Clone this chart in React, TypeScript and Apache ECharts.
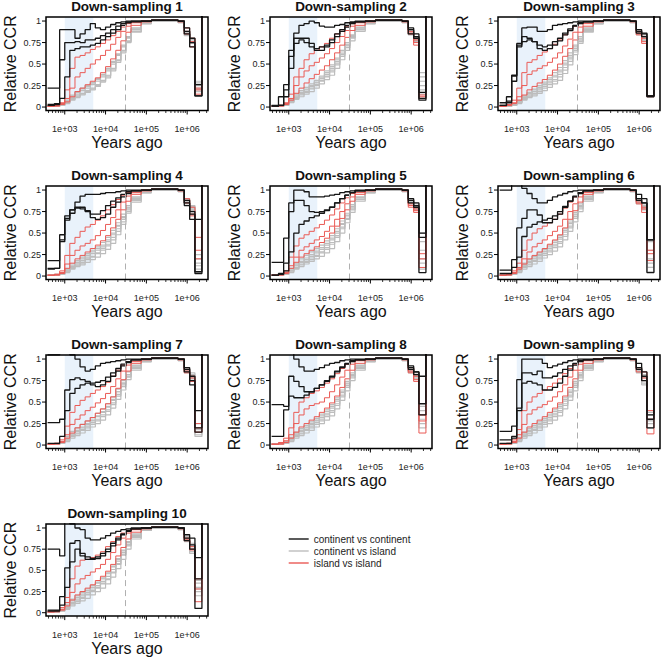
import React, { useEffect, useRef } from 'react';
import * as echarts from 'echarts';

const FONT = '"Liberation Sans", Arial, Helvetica, sans-serif';

// time boundaries (years ago) of the step segments; each value holds from TIMES[i] to TIMES[i+1]
const TIMES = [380, 560, 750, 1000, 1330, 1780, 2370, 3160, 4220, 5620, 7500, 10000, 13300, 17800, 23700, 31600, 42200, 75000, 133000, 300000, 600000, 850000, 1150000, 1550000, 2300000];
const T_END = 1e7;

const X_MIN = 347;
const X_MAX = 3.24e6;
const Y_MIN = -0.04;
const Y_MAX = 1.047;

const X_TICKS = [1e3, 1e4, 1e5, 1e6];
const X_TICK_LABELS = ['1e+03', '1e+04', '1e+05', '1e+06'];
const X_MINOR_TICKS = [400, 500, 600, 700, 800, 900, 2000, 3000, 4000, 5000, 6000, 7000, 8000, 9000, 2e4, 3e4, 4e4, 5e4, 6e4, 7e4, 8e4, 9e4, 2e5, 3e5, 4e5, 5e5, 6e5, 7e5, 8e5, 9e5, 2e6, 3e6];
const Y_TICKS = [0, 0.25, 0.5, 0.75, 1];
const Y_TICK_LABELS = ['0', '0.25', '0.5', '0.75', '1'];

const SHADE_RANGE = [1000, 5000];
const DASH_AT = 30000;

const TITLES = ['Down-sampling 1', 'Down-sampling 2', 'Down-sampling 3', 'Down-sampling 4', 'Down-sampling 5', 'Down-sampling 6', 'Down-sampling 7', 'Down-sampling 8', 'Down-sampling 9', 'Down-sampling 10'];
const LEGEND = ['continent vs continent', 'continent vs island', 'island vs island'];

// Relative CCR in percent, one row per pair
const DS1_CC = [
  [22,22,90,90,90,80,85,90,97,92,90,93,96,98,99,100,100,100,101,101,100,92,80,13,150],
  [3,3,55,75,75,76,75,78,78,80,83,86,90,94,97,99,100,100,101,101,100,88,75,26,150],
  [2,4,10,35,66,68,70,70,72,74,78,82,86,90,95,98,99,100,101,101,100,85,70,13,150],
];
const DS1_II = [
  [1,2,5,20,45,58,60,63,67,70,74,78,83,88,93,97,99,100,101,101,100,92,80,20,150],
  [1,2,4,10,22,35,40,45,50,55,60,66,73,81,88,94,98,100,101,101,100,88,76,15,150],
  [1,1,3,6,12,18,22,26,30,34,40,47,56,66,77,87,95,99,101,101,99,85,70,22,150],
];
const DS1_CI = [
  [1,2,4,8,14,18,22,25,28,33,38,45,53,62,72,82,92,98,100,100,99,86,78,20,150],
  [1,1,3,6,11,15,19,22,26,30,35,42,50,60,70,80,90,98,100,100,99,85,75,25,150],
  [1,1,2,5,10,13,16,19,22,26,31,37,45,55,66,77,88,97,100,100,99,88,80,30,150],
  [1,1,2,4,8,11,14,17,20,24,29,34,42,52,63,75,87,97,100,100,98,84,76,22,150],
  [1,2,3,7,13,17,21,24,28,32,37,44,52,61,71,81,91,98,100,100,99,87,79,28,150],
  [1,1,2,5,9,12,15,18,21,25,30,36,44,54,65,76,88,97,100,100,98,83,74,18,150],
];
const DS2_CC = [
  [2,12,26,66,86,95,97,100,98,94,93,93,95,96,98,99,100,100,101,101,100,92,82,10,150],
  [1,2,20,59,80,80,80,74,66,66,70,75,82,88,93,97,99,100,101,101,100,85,80,8,150],
  [1,2,12,45,74,78,75,70,68,70,72,78,85,90,95,98,99,100,101,101,100,90,85,17,150],
];
const DS2_II = [
  [1,2,5,15,35,45,55,62,66,70,74,80,85,90,94,97,99,100,101,101,100,88,75,10,150],
  [1,2,4,10,25,35,42,48,52,57,62,68,75,82,89,94,98,100,101,101,100,86,78,14,150],
  [1,1,3,8,16,22,28,33,38,43,48,55,63,72,81,89,95,99,101,101,99,85,72,12,150],
];
const DS2_CI = [
  [1,2,4,9,15,19,23,27,31,36,42,49,57,66,75,84,93,98,100,100,99,88,80,35,150],
  [1,1,3,7,12,16,20,24,28,33,38,45,53,62,72,82,91,98,100,100,99,86,78,25,150],
  [1,1,2,6,10,14,17,21,25,30,35,41,49,59,69,80,90,97,100,100,99,90,82,40,150],
  [1,1,2,5,9,12,15,18,22,27,32,37,45,55,66,77,88,97,100,100,98,85,77,20,150],
  [1,2,3,8,13,17,21,25,29,34,40,47,55,64,73,83,92,98,100,100,99,89,81,30,150],
  [1,1,2,6,11,15,18,22,26,31,36,43,51,61,71,81,90,97,100,100,98,84,76,15,150],
];
const DS3_CC = [
  [5,12,37,74,92,93,93,88,88,90,95,96,97,98,99,100,100,100,101,101,100,90,85,13,150],
  [2,7,36,70,82,80,76,68,66,68,72,77,84,89,94,97,99,100,101,101,100,88,86,12,150],
  [2,5,30,72,76,78,76,72,70,72,76,80,86,91,95,98,99,100,101,101,100,86,82,13,150],
];
const DS3_II = [
  [1,3,8,22,40,52,55,60,64,68,73,78,84,89,94,97,99,100,101,101,100,88,74,12,150],
  [1,2,5,12,25,38,42,45,48,52,57,63,71,79,87,93,97,100,101,101,100,86,80,13,150],
  [1,2,4,8,14,20,24,28,32,37,43,50,59,68,78,87,94,99,101,101,99,84,76,13,150],
];
const DS3_CI = [
  [1,2,4,8,13,17,21,25,29,34,40,46,54,63,72,82,92,98,100,100,99,88,82,13,150],
  [1,1,3,6,11,15,18,22,26,30,35,41,49,58,68,79,90,97,100,100,99,86,80,13,150],
  [1,1,2,5,9,12,15,18,22,26,30,35,43,53,64,76,88,97,100,100,99,90,84,13,150],
  [1,1,2,4,8,11,13,16,19,23,27,31,39,49,61,74,87,97,100,100,98,85,78,13,150],
  [1,2,3,7,12,16,20,23,27,32,37,43,51,60,70,80,91,98,100,100,99,87,81,13,150],
  [1,1,2,5,10,13,16,20,24,28,32,38,46,56,66,77,89,97,100,100,98,84,77,13,150],
];
const DS4_CC = [
  [18,18,42,67,77,86,93,95,95,95,96,97,97,98,99,100,100,100,101,101,100,88,75,3,150],
  [9,9,48,70,77,80,78,75,68,66,68,72,80,86,92,96,99,100,101,101,100,82,72,5,150],
  [8,9,40,65,73,79,80,76,72,72,76,82,87,91,95,98,99,100,101,101,100,85,66,66,150],
];
const DS4_II = [
  [1,2,6,24,38,45,52,57,60,65,70,77,83,89,94,97,99,100,101,101,100,90,80,30,150],
  [1,2,4,14,24,30,35,38,42,47,53,60,68,77,86,93,97,100,101,101,100,88,72,45,150],
  [1,1,3,9,15,20,24,28,32,36,41,47,56,66,77,87,95,99,101,101,99,85,70,20,150],
];
const DS4_CI = [
  [1,2,4,8,14,18,22,26,30,34,39,45,53,62,72,82,92,98,100,100,99,88,80,20,150],
  [1,1,3,6,11,15,18,22,26,30,34,40,48,58,68,79,90,97,100,100,99,86,78,8,150],
  [1,1,2,5,9,12,15,19,22,26,30,35,42,52,63,75,88,97,100,100,99,90,82,15,150],
  [1,1,2,4,8,11,13,16,19,22,26,31,38,48,60,73,86,97,100,100,98,85,77,12,150],
  [1,2,3,7,12,16,20,24,28,32,36,42,50,59,69,80,91,98,100,100,99,87,81,25,150],
  [1,1,2,5,10,13,16,20,23,27,32,37,45,55,66,77,89,97,100,100,98,84,76,5,150],
];
const DS5_CC = [
  [16,16,44,85,100,100,98,92,92,92,93,94,95,97,98,99,100,100,101,101,100,88,85,45,150],
  [1,3,15,75,88,88,82,75,74,75,77,80,85,90,94,97,99,100,101,101,100,85,80,4,150],
  [1,2,6,28,50,60,64,68,70,73,76,80,85,90,94,97,99,100,101,101,100,90,82,50,150],
];
const DS5_II = [
  [1,2,6,22,35,44,48,52,56,60,65,71,78,85,91,96,99,100,101,101,100,80,78,26,150],
  [1,2,4,12,22,30,34,38,42,46,52,58,66,75,84,92,97,100,101,101,100,82,76,10,150],
  [1,1,3,9,16,22,26,30,34,39,44,50,58,67,77,87,95,99,101,101,99,84,74,20,150],
];
const DS5_CI = [
  [1,2,4,9,15,20,24,28,32,36,41,47,55,64,73,83,92,98,100,100,99,88,82,50,150],
  [1,1,3,7,12,16,19,23,27,31,36,42,50,60,70,80,91,97,100,100,99,86,78,30,150],
  [1,1,2,5,9,13,16,19,23,27,31,37,45,55,66,77,89,97,100,100,99,90,84,20,150],
  [1,1,2,4,8,11,14,17,20,23,27,32,40,50,62,74,87,97,100,100,98,85,79,8,150],
  [1,2,3,7,13,17,21,25,29,33,38,44,52,61,71,81,91,98,100,100,99,87,81,40,150],
  [1,1,2,6,10,14,17,21,24,28,33,39,47,57,67,78,89,97,100,100,98,84,77,15,150],
];
const DS6_CC = [
  [100,100,110,110,102,96,90,85,85,88,92,94,96,98,99,100,100,100,101,101,100,95,90,42,150],
  [7,7,19,56,67,77,77,71,62,62,66,72,80,87,93,97,99,100,101,101,100,90,85,4,150],
  [3,3,10,22,46,57,60,63,65,67,70,75,81,87,92,96,99,100,101,101,100,88,85,42,150],
];
const DS6_II = [
  [1,2,6,15,30,42,50,55,58,62,66,72,79,86,92,96,99,100,101,101,100,88,80,26,150],
  [1,2,4,10,20,28,34,38,42,47,52,58,66,75,84,92,97,100,101,101,100,86,78,18,150],
  [1,1,3,8,14,20,24,28,32,37,42,48,56,66,76,86,95,99,101,101,99,84,74,30,150],
];
const DS6_CI = [
  [1,2,4,9,15,19,23,27,31,36,41,47,55,64,74,84,93,98,100,100,99,88,82,40,150],
  [1,1,3,7,12,16,20,24,28,32,37,43,51,61,71,81,91,98,100,100,99,86,80,30,150],
  [1,1,2,5,10,13,17,20,24,28,33,38,46,56,67,78,89,97,100,100,99,90,84,10,150],
  [1,1,2,4,8,11,14,17,21,25,29,34,42,52,63,75,87,97,100,100,98,85,78,5,150],
  [1,2,3,8,13,17,21,25,29,34,39,45,53,62,72,82,92,98,100,100,99,87,81,20,150],
  [1,1,2,6,11,14,18,22,26,30,35,40,48,58,69,80,90,97,100,100,98,84,77,15,150],
];
const DS7_CC = [
  [105,105,110,110,105,100,91,86,88,92,95,96,97,98,99,100,100,100,101,101,100,90,80,20,150],
  [26,26,30,64,76,78,76,74,70,68,70,74,80,86,92,96,99,100,101,101,100,85,75,15,150],
  [2,2,10,40,60,66,70,72,72,73,75,79,84,89,94,97,99,100,101,101,100,88,70,40,150],
];
const DS7_II = [
  [1,2,6,22,38,46,52,56,60,64,68,73,80,87,93,97,99,100,101,101,100,88,80,20,150],
  [1,2,4,12,24,30,35,40,44,49,54,60,68,77,86,93,97,100,101,101,100,86,78,15,150],
  [1,1,3,8,14,20,24,28,32,37,42,48,56,66,76,86,95,99,101,101,99,84,74,25,150],
];
const DS7_CI = [
  [1,2,4,10,16,20,24,28,32,37,42,48,56,65,75,85,93,98,100,100,99,88,82,20,150],
  [1,1,3,7,12,16,20,24,28,33,38,44,52,62,72,82,91,98,100,100,99,86,80,15,150],
  [1,1,2,5,10,13,17,20,24,28,33,39,47,57,68,79,89,97,100,100,99,90,84,10,150],
  [1,1,2,4,8,11,14,17,21,25,29,35,43,53,64,76,87,97,100,100,98,85,78,25,150],
  [1,2,3,8,13,17,21,25,29,34,39,45,53,62,72,82,92,98,100,100,99,87,81,18,150],
  [1,1,2,6,11,14,18,22,26,30,35,41,49,59,70,80,90,97,100,100,98,84,77,12,150],
];
const DS8_CC = [
  [110,110,110,110,100,91,86,86,88,90,93,95,96,98,99,100,100,100,101,101,100,92,85,80,150],
  [47,47,45,80,74,68,62,62,66,70,74,79,85,90,94,97,99,100,101,101,100,88,82,48,150],
  [10,10,41,57,55,55,58,62,66,70,75,80,86,91,95,98,99,100,101,101,100,90,85,35,150],
];
const DS8_II = [
  [1,3,8,20,38,50,55,60,63,67,72,77,83,89,94,97,99,100,101,101,100,90,76,14,150],
  [1,2,5,12,25,35,42,46,48,50,55,62,70,79,87,94,98,100,101,101,100,86,80,35,150],
  [1,1,3,8,15,21,25,29,33,38,43,49,57,67,77,87,95,99,101,101,99,84,74,28,150],
];
const DS8_CI = [
  [1,2,4,9,15,19,23,27,31,36,41,47,55,64,74,84,93,98,100,100,99,88,82,40,150],
  [1,1,3,7,12,16,20,24,28,32,37,43,51,61,71,81,91,98,100,100,99,86,80,30,150],
  [1,1,2,5,10,13,17,20,24,28,33,38,46,56,67,78,89,97,100,100,99,90,84,25,150],
  [1,1,2,4,8,11,14,17,21,25,29,34,42,52,63,75,87,97,100,100,98,85,78,45,150],
  [1,2,3,8,13,17,21,25,29,34,39,45,53,62,72,82,92,98,100,100,99,87,81,20,150],
  [1,1,2,6,11,14,18,22,26,30,35,40,48,58,69,80,90,97,100,100,98,84,77,35,150],
];
const DS9_CC = [
  [16,16,22,76,100,100,100,100,95,90,92,94,96,98,99,100,100,100,101,101,100,95,85,35,150],
  [6,6,10,43,84,84,82,86,78,78,80,84,88,92,95,98,99,100,101,101,100,90,80,30,150],
  [2,2,8,40,72,74,72,70,64,64,67,72,80,87,93,97,99,100,101,101,100,88,75,20,150],
];
const DS9_II = [
  [1,2,6,18,40,50,56,60,64,68,72,77,83,89,94,97,99,100,101,101,100,90,85,13,150],
  [1,2,4,12,24,36,41,44,47,51,56,62,70,79,87,94,98,100,101,101,100,88,78,30,150],
  [1,1,3,8,15,21,25,29,33,38,43,49,57,67,77,87,95,99,101,101,99,85,75,40,150],
];
const DS9_CI = [
  [1,2,4,9,15,19,23,27,31,36,41,47,55,64,74,84,93,98,100,100,99,88,82,38,150],
  [1,1,3,7,12,16,20,24,28,32,37,43,51,61,71,81,91,98,100,100,99,86,78,30,150],
  [1,1,2,5,10,13,17,20,24,28,33,38,46,56,67,78,89,97,100,100,99,90,75,25,150],
  [1,1,2,4,8,11,14,17,21,25,29,34,42,52,63,75,87,97,100,100,98,85,72,20,150],
  [1,2,3,8,13,17,21,25,29,34,39,45,53,62,72,82,92,98,100,100,99,87,80,35,150],
  [1,1,2,6,11,14,18,22,26,30,35,40,48,58,69,80,90,97,100,100,98,84,70,28,150],
];
const DS10_CC = [
  [75,75,67,110,105,100,98,88,86,86,88,91,94,96,98,99,100,100,101,101,100,92,88,65,150],
  [3,3,19,53,82,85,67,63,63,64,67,72,79,86,92,96,99,100,101,101,100,88,80,5,150],
  [2,2,9,30,60,75,70,66,64,66,70,75,82,88,93,97,99,100,101,101,100,85,75,40,150],
];
const DS10_II = [
  [1,2,6,18,40,55,62,63,65,68,72,78,84,90,94,97,99,100,101,101,100,88,75,13,150],
  [1,2,4,12,24,34,40,44,48,52,57,63,71,80,88,94,98,100,101,101,100,86,78,28,150],
  [1,1,3,8,15,21,25,29,33,38,43,49,57,67,77,87,95,99,101,101,99,85,74,40,150],
];
const DS10_CI = [
  [1,2,4,10,16,20,24,28,32,36,41,47,55,64,74,84,93,98,100,100,99,88,82,38,150],
  [1,1,3,7,12,16,20,24,28,32,37,43,51,61,71,81,91,98,100,100,99,86,78,30,150],
  [1,1,2,5,10,13,17,21,25,29,34,39,47,57,68,79,89,97,100,100,99,90,75,25,150],
  [1,1,2,4,8,11,14,17,21,25,29,34,42,52,63,75,87,97,100,100,98,85,72,20,150],
  [1,2,3,8,14,18,22,26,30,35,40,46,54,63,73,83,92,98,100,100,99,87,80,35,150],
  [1,1,2,6,11,14,18,22,26,30,35,40,48,58,69,80,90,97,100,100,98,84,70,28,150],
];

const PANELS = [
  { cc: DS1_CC, ci: DS1_CI, ii: DS1_II },
  { cc: DS2_CC, ci: DS2_CI, ii: DS2_II },
  { cc: DS3_CC, ci: DS3_CI, ii: DS3_II },
  { cc: DS4_CC, ci: DS4_CI, ii: DS4_II },
  { cc: DS5_CC, ci: DS5_CI, ii: DS5_II },
  { cc: DS6_CC, ci: DS6_CI, ii: DS6_II },
  { cc: DS7_CC, ci: DS7_CI, ii: DS7_II },
  { cc: DS8_CC, ci: DS8_CI, ii: DS8_II },
  { cc: DS9_CC, ci: DS9_CI, ii: DS9_II },
  { cc: DS10_CC, ci: DS10_CI, ii: DS10_II },
];

const COLOR_CC = '#151515';
const COLOR_CI = '#bdbdbd';
const COLOR_II = '#ea5a55';

const COL_LEFT = [46, 270, 498];
const ROW_TOP0 = 17;
const ROW_STEP = 169;
const PANEL_W = 162;
const PANEL_H = 93.5;

function stepData(vals: number[]) {
  const pts: number[][] = vals.map((v, i) => [TIMES[i], v / 100]);
  pts.push([T_END, vals[vals.length - 1] / 100]);
  return pts;
}

function xLabel(v: number) {
  for (let k = 0; k < X_TICKS.length; k++) {
    if (Math.abs(Math.log10(v) - Math.log10(X_TICKS[k])) < 1e-6) return X_TICK_LABELS[k];
  }
  return '';
}

function buildOption() {
  const grid: any[] = [];
  const xAxis: any[] = [];
  const yAxis: any[] = [];
  const series: any[] = [];

  PANELS.forEach((p, i) => {
    const r = Math.floor(i / 3);
    const c = i % 3;
    grid.push({ left: COL_LEFT[c], top: ROW_TOP0 + ROW_STEP * r, width: PANEL_W, height: PANEL_H, show: false });
    xAxis.push({
      type: 'log', logBase: 10, gridIndex: i, min: X_MIN, max: X_MAX,
      axisLine: { show: false }, axisTick: { show: false }, splitLine: { show: false },
      axisLabel: { formatter: xLabel, fontSize: 9, color: '#222', margin: 14, fontFamily: FONT, showMinLabel: false, showMaxLabel: false },
      name: 'Years ago', nameLocation: 'middle', nameGap: 19,
      nameTextStyle: { fontSize: 16, color: '#111', fontFamily: FONT },
    });
    yAxis.push({
      type: 'value', gridIndex: i, min: Y_MIN, max: Y_MAX,
      axisLine: { show: false }, axisTick: { show: false }, axisLabel: { show: false }, splitLine: { show: false },
      name: 'Relative CCR', nameLocation: 'middle', nameGap: 28, nameRotate: 90,
      nameTextStyle: { fontSize: 16, color: '#111', fontFamily: FONT },
    });

    // shaded interval and dashed marker
    series.push({
      type: 'line', xAxisIndex: i, yAxisIndex: i, data: [], silent: true, z: 1,
      markArea: { silent: true, itemStyle: { color: '#e9f2fb' }, data: [[{ xAxis: SHADE_RANGE[0] }, { xAxis: SHADE_RANGE[1] }]] },
      markLine: { silent: true, symbol: ['none', 'none'], label: { show: false }, lineStyle: { color: '#b0b0b0', type: [6, 4], width: 1 }, data: [{ xAxis: DASH_AT }] },
    });

    const addLines = (rows: number[][], name: string, color: string, width: number, z: number) => {
      rows.forEach((vals) => {
        series.push({
          type: 'line', name, xAxisIndex: i, yAxisIndex: i, data: stepData(vals), step: 'end',
          symbol: 'none', showSymbol: false, silent: true, z,
          lineStyle: { color, width }, itemStyle: { color },
        });
      });
    };
    addLines(p.ci, LEGEND[1], COLOR_CI, 1.2, 2);
    addLines(p.ii, LEGEND[2], COLOR_II, 1, 3);
    addLines(p.cc, LEGEND[0], COLOR_CC, 1.3, 4);

    // frame, ticks, tick labels and title
    series.push({
      type: 'custom', xAxisIndex: i, yAxisIndex: i, silent: true, z: 10, clip: false,
      data: [[X_MIN, Y_MIN]],
      renderItem: (params: any, api: any) => {
        const tl = api.coord([X_MIN, Y_MAX]);
        const br = api.coord([X_MAX, Y_MIN]);
        const children: any[] = [];
        children.push({ type: 'rect', shape: { x: tl[0], y: tl[1], width: br[0] - tl[0], height: br[1] - tl[1] }, style: { fill: 'none', stroke: '#000', lineWidth: 1.5 } });
        Y_TICKS.forEach((v, k) => {
          const pt = api.coord([X_MIN, v]);
          children.push({ type: 'line', shape: { x1: pt[0] - 4, y1: pt[1], x2: pt[0], y2: pt[1] }, style: { stroke: '#000', lineWidth: 1 } });
          children.push({ type: 'text', x: pt[0] - 5, y: pt[1], style: { text: Y_TICK_LABELS[k], align: 'right', verticalAlign: 'middle', textAlign: 'right', textVerticalAlign: 'middle', fontSize: 9, fontFamily: FONT, fill: '#222' } });
        });
        X_TICKS.forEach((t) => {
          const pt = api.coord([t, Y_MIN]);
          children.push({ type: 'line', shape: { x1: pt[0], y1: pt[1], x2: pt[0], y2: pt[1] + 4 }, style: { stroke: '#000', lineWidth: 1 } });
        });
        X_MINOR_TICKS.forEach((t) => {
          const pt = api.coord([t, Y_MIN]);
          children.push({ type: 'line', shape: { x1: pt[0], y1: pt[1], x2: pt[0], y2: pt[1] + 2.5 }, style: { stroke: '#000', lineWidth: 0.8 } });
        });
        children.push({ type: 'text', x: (tl[0] + br[0]) / 2, y: tl[1] - 11, style: { text: TITLES[i], align: 'center', verticalAlign: 'middle', textAlign: 'center', textVerticalAlign: 'middle', fontSize: 13.5, fontWeight: 'bold', fontFamily: FONT, fill: '#111' } });
        return { type: 'group', children };
      },
    });
  });

  return {
    animation: false,
    backgroundColor: '#fff',
    legend: {
      data: LEGEND, orient: 'vertical', left: 283, top: 529, itemWidth: 20, itemHeight: 10, itemGap: 2,
      selectedMode: false, itemStyle: { opacity: 0 }, lineStyle: { width: 1.4 },
      textStyle: { fontSize: 10, color: '#222', fontFamily: FONT },
    },
    grid, xAxis, yAxis, series,
  };
}

export default function App() {
  const ref = useRef<HTMLDivElement>(null);
  useEffect(() => {
    const chart = echarts.init(ref.current!, null, { renderer: 'svg' });
    chart.setOption(buildOption() as any);
    return () => chart.dispose();
  }, []);
  return <div ref={ref} style={{ position: 'absolute', left: 0, top: 0, width: 661, height: 657, background: '#fff' }} />;
}
